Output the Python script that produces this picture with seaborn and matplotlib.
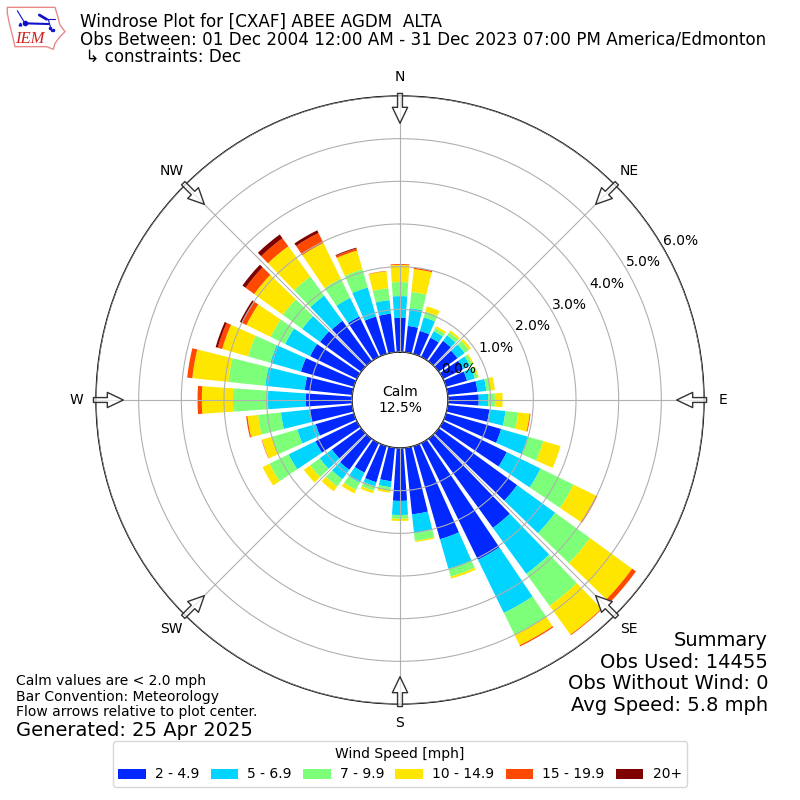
import matplotlib
matplotlib.use("Agg")
import matplotlib.pyplot as plt
import numpy as np
import pandas as pd
import seaborn as sns
from matplotlib.patches import Patch, Polygon

# wind direction (deg) and percent of obs per speed bin
directions = [10, 20, 30, 40, 50, 60, 70, 80, 90, 100, 110, 120,
              130, 140, 150, 160, 170, 180, 190, 200, 210, 220, 230, 240,
              250, 260, 270, 280, 290, 300, 310, 320, 330, 340, 350, 360]
speed_2_5 = [.62, .56, .50, .59, .54, .52, .51, .70, .72, .98, 1.34, 1.66,
             2.27, 2.58, 3.04, 2.27, 1.57, 1.24, .79, .88, .77, .90, .85, 1.08,
             .93, 1.01, 1.08, 1.12, 1.29, 1.22, 1.19, 1.17, 1.05, .91, .91, .80]
speed_5_7 = [.42, .33, .17, .16, .21, .18, .19, .21, .22, .38, .65, .88,
             1.10, 1.33, 1.39, .72, .44, .33, .14, .10, .26, .27, .35, .70,
             .45, .67, .89, .93, .75, .65, .52, .73, .49, .71, .32, .51]
speed_7_10 = [.38, .14, .08, .09, .12, .07, .07, .09, .16, .30, .38, .86,
              1.01, .93, .57, .19, .18, .09, .07, .11, .19, .21, .28, .50,
              .61, .54, .82, .87, .54, .38, .56, .55, .50, .44, .28, .33]
speed_10_15 = [.54, .13, .05, .05, .06, .03, .03, .11, .18, .27, .42, .59,
               1.22, .83, .27, .05, .03, .05, .06, .06, .09, .14, .18, .18,
               .25, .25, .73, .85, .63, .63, .83, .88, .93, .46, .40, .40]
speed_15_20 = [.03, 0, 0, 0, 0, 0, 0, 0, 0, .02, 0, .03,
               .11, .02, .03, 0, 0, 0, 0, 0, 0, 0, 0, 0,
               .01, .03, .10, .12, .11, .11, .25, .23, .26, .05, .01, .02]
speed_20_up = [0, 0, 0, 0, 0, 0, 0, 0, 0, 0, 0, 0,
               0, 0, 0, 0, 0, 0, 0, 0, 0, 0, 0, 0,
               0, 0, 0, 0, .05, .06, .09, .11, .07, .02, 0, 0]

speed_labels = ["2 - 4.9", "5 - 6.9", "7 - 9.9", "10 - 14.9", "15 - 19.9", "20+"]
speed_colors = ["#0028ff", "#00d4ff", "#7dff7a", "#ffe600", "#ff4800", "#7f0000"]
compass = ["N", "NE", "E", "SE", "S", "SW", "W", "NW"]
radial_ticks = [0, 1, 2, 3, 4, 5, 6]

sns.set_style("white", {
    "text.color": "black",
    "xtick.color": "black",
    "ytick.color": "black",
    "axes.edgecolor": "black",
    "axes.axisbelow": False,
})

series = [speed_2_5, speed_5_7, speed_7_10, speed_10_15, speed_15_20, speed_20_up]
frames = []
for label, values in zip(speed_labels, series):
    frames.append(pd.DataFrame({
        "theta": np.deg2rad(np.array(directions) % 360),
        "freq": values,
        "speed": label,
    }))
df = pd.concat(frames, ignore_index=True)

fig = plt.figure(figsize=(8, 8), dpi=100)
ax = fig.add_axes([0.12, 0.12, 0.76, 0.76], projection="polar")
ax.set_theta_zero_location("N")
ax.set_theta_direction(-1)

palette = dict(zip(speed_labels, speed_colors))
# seaborn stacks the last hue at the bottom, so slowest bin goes last
sns.histplot(
    data=df,
    x="theta",
    weights="freq",
    hue="speed",
    hue_order=speed_labels[::-1],
    palette=palette,
    multiple="stack",
    binwidth=np.deg2rad(10),
    binrange=(np.deg2rad(-5), np.deg2rad(355)),
    shrink=0.8,
    alpha=1,
    linewidth=0,
    legend=False,
    ax=ax,
)
ax.set_xlabel("")
ax.set_ylabel("")

ax.set_xlim(0, 2 * np.pi)
ax.set_ylim(0, 6)
ax.set_rorigin(-1.125)
ax.set_xticks(np.deg2rad(np.arange(0, 360, 45)))
ax.set_xticklabels(compass, fontsize=10)
ax.set_yticks(radial_ticks)
ax.set_yticklabels([f"{t:.1f}%" for t in radial_ticks], fontsize=10, ha="left", va="bottom")
ax.set_rlabel_position(60)
ax.grid(True, color="#b0b0b0", linewidth=0.8)
for spine in ax.spines.values():
    spine.set_linewidth(1)
    spine.set_color("black")

# flow arrows on the rim, pointing at the centre
for angle in np.arange(0, 360, 45):
    ax.annotate(
        "",
        xy=(np.deg2rad(angle), 5.36),
        xytext=(np.deg2rad(angle), 6.06),
        annotation_clip=False,
        arrowprops=dict(width=3.5, headwidth=11, headlength=11.5,
                        facecolor=(1, 1, 1, 0.7), edgecolor="#333333", linewidth=1),
    )

ax.text(0.5, 0.5, "Calm\n12.5%", transform=ax.transAxes, ha="center", va="center", fontsize=10)

fig.text(80 / 800, 1 - 13 / 800,
         "Windrose Plot for [CXAF] ABEE AGDM  ALTA\n"
         "Obs Between: 01 Dec 2004 12:00 AM - 31 Dec 2023 07:00 PM America/Edmonton\n"
         " \u21b3 constraints: Dec",
         fontsize=12.05, va="top", ha="left", linespacing=0.97)
fig.text(16 / 800, 1 - 674 / 800,
         "Calm values are < 2.0 mph\nBar Convention: Meteorology\nFlow arrows relative to plot center.",
         fontsize=10, va="top", ha="left", linespacing=1.14)
fig.text(16 / 800, 1 - 730 / 800, "Generated: 25 Apr 2025", fontsize=14, va="center", ha="left")
fig.text(768 / 800, 1 - 631 / 800,
         "Summary\nObs Used: 14455\nObs Without Wind: 0\nAvg Speed: 5.8 mph",
         fontsize=14, va="top", ha="right", multialignment="right", linespacing=1.18)

handles = [Patch(facecolor=c, edgecolor="none", label=l) for c, l in zip(speed_colors, speed_labels)]
fig.legend(handles=handles, title="Wind Speed [mph]", ncol=6, loc="lower center",
           bbox_to_anchor=(0.5, 0.0075), fontsize=10, title_fontsize=10, frameon=True,
           edgecolor="#cccccc", columnspacing=0.8, handletextpad=0.65)

# rough IEM logo, Iowa outline with the station glyph
logo = fig.add_axes([0, 1 - 52 / 800, 70 / 800, 52 / 800])
logo.set_xlim(0, 210)
logo.set_ylim(156, 0)
logo.axis("off")
outline = [(22, 22), (165, 22), (172, 45), (180, 75), (195, 95), (180, 110), (165, 130),
           (160, 148), (140, 140), (45, 140), (38, 110), (28, 70), (22, 40)]
logo.add_patch(Polygon(outline, closed=True, fill=False, edgecolor="#e88a8a", linewidth=1))
logo.plot([75, 145], [70, 72], color="#1111cc", linewidth=1.5)
logo.plot([52, 75], [32, 70], color="#1111cc", linewidth=0.8)
logo.plot([118, 140], [45, 58], color="#1111cc", linewidth=2)
logo.plot([140, 165], [58, 58], color="#1111cc", linewidth=0.8)
logo.plot([145, 155], [58, 95], color="#1111cc", linewidth=0.8)
logo.plot([75], [70], "o", color="#1111cc", markersize=3)
logo.plot([60], [72], "^", color="#1111cc", markersize=2)
logo.plot([150, 158], [84, 90], "o", color="#1111cc", markersize=1.5)
logo.text(90, 117, "IEM", color="#cc2222", fontsize=12, style="italic",
          family="Liberation Serif", ha="center", va="center")

fig.savefig("out.png", dpi=100)
